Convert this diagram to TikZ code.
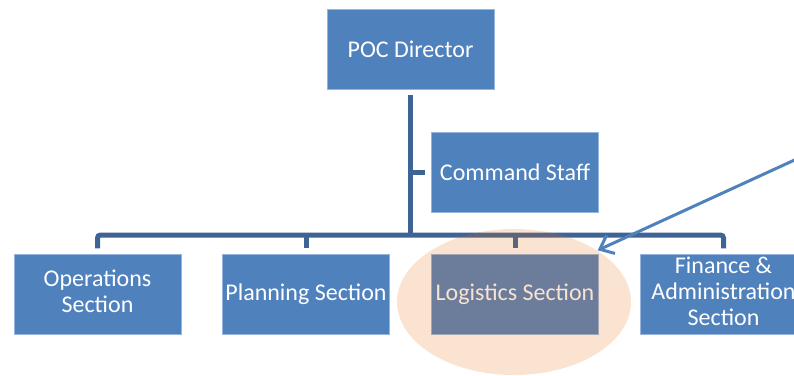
\documentclass[tikz,border=0pt]{standalone}
\usepackage{fontspec}
\setmainfont{Carlito}
\usetikzlibrary{arrows.meta,shapes.geometric}
\definecolor{boxblue}{RGB}{79,129,189}
\definecolor{boxedge}{RGB}{150,180,220}
\definecolor{linkblue}{RGB}{62,100,150}
\definecolor{hilite}{RGB}{228,108,10}

\begin{document}
\begin{tikzpicture}[x=1pt, y=-1pt,
    unit/.style={draw=boxedge, fill=boxblue, text=white, minimum width=167pt, minimum height=80pt, inner sep=0pt, font=\fontsize{24}{26}\selectfont},
    link/.style={draw=linkblue, line width=5pt},
    pointer/.style={draw=boxblue, line width=3pt, -{Straight Barb[length=12pt, width=20pt]}}]
%		    \draw[help lines] (0,0) grid[step=50] (794,375);
			\useasboundingbox (0,0) rectangle (794,375);
			\clip (0,0) rectangle (794,375);
			\node[unit] (director) at (410.5,49) {POC Director};
			\node[unit] (staff) at (515,172) {Command Staff};
			\node[unit] (ops) at (97.5,294.5) {\begin{tabular}{@{}c@{}} Operations \\ Section \end{tabular}};
			\node[unit] (plan) at (306,294.5) {Planning Section};
			\node[unit] (logi) at (515,294.5) {Logistics Section};
			\node[unit] (fin) at (723.5,294.5) {\begin{tabular}{@{}c@{}} Finance \& \\ Administration \\ Section \end{tabular}};
			\coordinate (bar) at (410,235);
			\coordinate (callout) at (812,152);
			\draw[link, shorten <=6pt] (director.south) -- (director.south |- bar);
			\draw[link, shorten >=6pt] (director.south |- staff.west) -- (staff.west);
			\draw[link, rounded corners=3pt, shorten <=6pt, shorten >=6pt] (ops.north) -- (ops.north |- bar) -- (fin.north |- bar) -- (fin.north);
			\foreach \s in {plan, logi}
				\draw[link, shorten >=6pt] (\s.north |- bar) -- (\s.north);
			\node[ellipse, fill=hilite, fill opacity=0.19, minimum width=234pt, minimum height=146pt] (focus) at (514,302) {};
			\draw[pointer] (callout) -- ([shift={(-1,-4)}]logi.north east);
		\end{tikzpicture}
\end{document}
